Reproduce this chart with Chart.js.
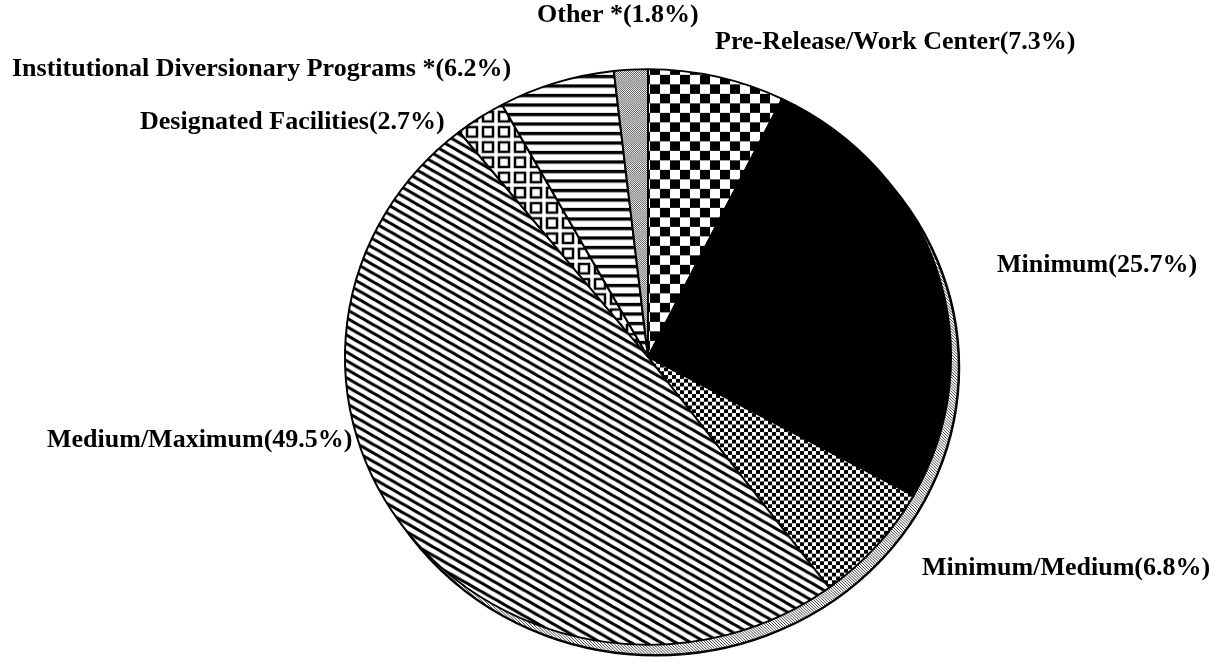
<!DOCTYPE html>
<html>
<head>
<meta charset="utf-8">
<script src="https://cdn.jsdelivr.net/npm/chart.js@4"></script>
<style>
  body { margin: 0; background: #fff; }
</style>
</head>
<body>
<canvas id="pieChart" width="1229" height="667"></canvas>
<script>
const categories = [
  "Pre-Release/Work Center",
  "Minimum",
  "Minimum/Medium",
  "Medium/Maximum",
  "Designated Facilities",
  "Institutional Diversionary Programs *",
  "Other *",
];
const shares = [7.3, 25.7, 6.8, 49.5, 2.7, 6.2, 1.8];

// where each label's text starts (left edge, vertical middle)
const labelAnchors = [
  [715, 42],
  [997, 265],
  [922, 568],
  [47, 440],
  [140, 122],
  [12, 69],
  [537, 15],
];

const squash = 0.95; // pie is drawn slightly tilted

function makeTile(w, h, draw) {
  const c = document.createElement("canvas");
  c.width = w;
  c.height = h;
  const g = c.getContext("2d");
  g.fillStyle = "#fff";
  g.fillRect(0, 0, w, h);
  g.strokeStyle = "#000";
  g.fillStyle = "#000";
  draw(g, w, h);
  return g.createPattern(c, "repeat");
}

const bigChecker = makeTile(20, 20, (g) => {
  g.fillRect(0, 0, 10, 10);
  g.fillRect(10, 10, 10, 10);
});
const fineChecker = makeTile(8, 8, (g) => {
  g.fillRect(0, 0, 4, 4);
  g.fillRect(4, 4, 4, 4);
});
const diagonal = makeTile(15, 9, (g, w, h) => {
  g.lineWidth = 3.2;
  g.beginPath();
  for (const dx of [-w, 0, w]) {
    for (const dy of [-h, 0, h]) {
      g.moveTo(dx, dy);
      g.lineTo(dx + w, dy + h);
    }
  }
  g.stroke();
});
const hollowSquares = makeTile(16, 16, (g) => {
  g.lineWidth = 2.5;
  g.strokeRect(3, 3, 10, 10);
});
const horizontal = makeTile(10, 10, (g) => {
  g.fillRect(0, 0, 10, 3.5);
});
const stipple = makeTile(2, 2, (g) => {
  g.fillStyle = "#555";
  g.fillRect(0, 0, 1, 1);
  g.fillRect(1, 1, 1, 1);
});
const rimStipple = makeTile(3, 3, (g) => {
  g.fillStyle = "#444";
  g.fillRect(0, 0, 1, 1);
  g.fillRect(1, 1, 1, 1);
  g.fillRect(2, 2, 1, 1);
});

const fills = [bigChecker, "#000", fineChecker, diagonal, hollowSquares, horizontal, stipple];

const tiltPlugin = {
  id: "tilt",
  beforeDatasetsDraw(chart) {
    const arc = chart.getDatasetMeta(0).data[0];
    const ctx = chart.ctx;
    ctx.save();
    ctx.translate(arc.x, arc.y);
    ctx.scale(1, squash);
    ctx.translate(-arc.x, -arc.y);
    // gray rim under the pie
    ctx.beginPath();
    ctx.arc(arc.x + 8, arc.y + 11, arc.outerRadius, 0, Math.PI * 2);
    ctx.fillStyle = rimStipple;
    ctx.fill();
    ctx.lineWidth = 2.5;
    ctx.strokeStyle = "#000";
    ctx.stroke();
  },
  afterDatasetsDraw(chart) {
    chart.ctx.restore();
  },
};

const labelPlugin = {
  id: "outLabels",
  afterDraw(chart) {
    const ctx = chart.ctx;
    ctx.save();
    ctx.font = "bold 26px 'Liberation Serif', 'Times New Roman', serif";
    ctx.fillStyle = "#000";
    ctx.textAlign = "left";
    ctx.textBaseline = "middle";
    categories.forEach((name, i) => {
      const [x, y] = labelAnchors[i];
      ctx.fillText(name + "(" + shares[i].toFixed(1) + "%)", x, y);
    });
    ctx.restore();
  },
};

new Chart(document.getElementById("pieChart"), {
  type: "pie",
  data: {
    labels: categories,
    datasets: [
      {
        data: shares,
        backgroundColor: fills,
        borderColor: "#000",
        borderWidth: 2,
      },
    ],
  },
  options: {
    responsive: false,
    animation: false,
    layout: {
      padding: { left: 344, right: 277, top: 53, bottom: 6 },
    },
    plugins: {
      legend: { display: false },
      tooltip: { enabled: false },
    },
  },
  plugins: [tiltPlugin, labelPlugin],
});
</script>
</body>
</html>
